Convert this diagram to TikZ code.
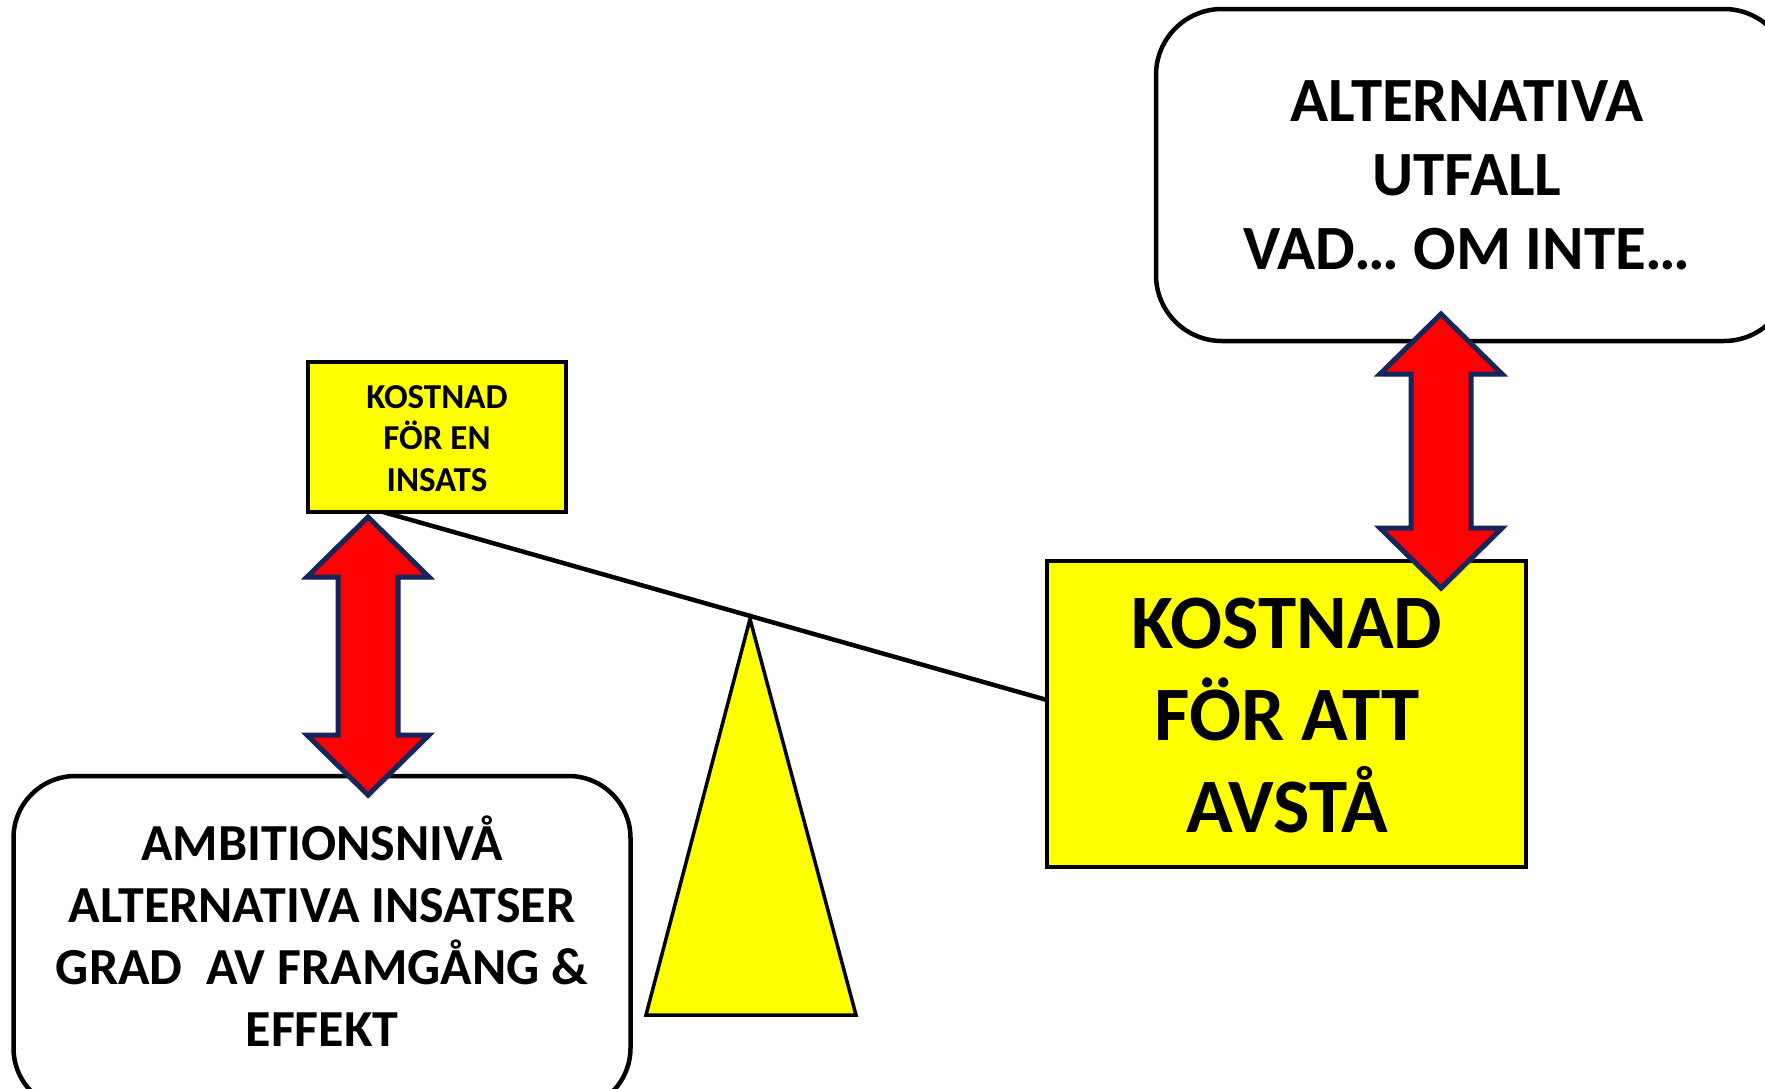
\documentclass[tikz,border=0pt]{standalone}
\usepackage{fontspec}
\setmainfont{Carlito}
\usetikzlibrary{shadows}
\definecolor{boxyellow}{RGB}{255,255,0}
\definecolor{arrred}{RGB}{255,0,0}
\definecolor{arrnavy}{RGB}{22,38,92}
\tikzset{
  roundbox/.style={draw=black, line width=4.5pt, fill=white, rounded corners=66pt, inner sep=0pt},
  yellowbox/.style={draw=black, line width=3.5pt, fill=boxyellow, inner sep=0pt},
  lbl/.style={align=center, inner sep=0pt, text=black},
  beam/.style={draw=black, line width=4.5pt},
  fulcrum/.style={draw=black, line width=3.5pt, fill=boxyellow, line join=miter},
  redarrow/.style={draw=arrnavy, line width=5pt, fill=arrred, line join=miter,
    drop shadow={shadow xshift=2pt, shadow yshift=-3pt, opacity=0.25}}
}
\newcommand\vdarrow[3]{%
  \path[redarrow] (#1,#2) -- ({#1+61},{#2+60}) -- ({#1+30},{#2+60}) -- ({#1+30},{#3-60})
    -- ({#1+61},{#3-60}) -- (#1,#3) -- ({#1-61},{#3-60}) -- ({#1-30},{#3-60})
    -- ({#1-30},{#2+60}) -- ({#1-61},{#2+60}) -- cycle;}
\begin{document}
\begin{tikzpicture}[x=1pt,y=-1pt]
\useasboundingbox (0,0) rectangle (1765,1088);
\clip (0,0) rectangle (1765,1088);
\fill[white] (0,0) rectangle (1765,1088);

% top right rounded box
\node[roundbox, minimum width=634pt, minimum height=332pt] (outcome) at (1473,175) {};
\node[lbl, font=\fontsize{63}{74}\selectfont\bfseries] (outcometxt) at (1467,175.5)
  {ALTERNATIVA\\UTFALL\\VAD… OM INTE…};

% bottom left rounded box
\node[roundbox, rounded corners=62pt, minimum width=617pt, minimum height=334pt] (ambition) at (322,943) {};
\node[lbl, font=\fontsize{52}{62}\selectfont\bfseries] (ambitiontxt) at (322,931)
  {AMBITIONSNIVÅ\\ALTERNATIVA INSATSER\\GRAD\ \ AV FRAMGÅNG \&\\EFFEKT};

% small yellow box
\node[yellowbox, minimum width=258pt, minimum height=150pt] (insats) at (437,437) {};
\node[lbl, font=\fontsize{35}{41.5}\selectfont\bfseries] (insatstxt) at (437,438.5)
  {KOSTNAD\\FÖR EN\\INSATS};

% big yellow box
\node[yellowbox, minimum width=479pt, minimum height=306pt] (avsta) at (1286.5,714) {};
\node[lbl, font=\fontsize{77}{92}\selectfont\bfseries] (avstatxt) at (1287,716)
  {KOSTNAD\\FÖR ATT\\AVSTÅ};

% beam
\coordinate (beamL) at (383,512);
\coordinate (beamR) at (1047,700);
\draw[beam] (beamL) -- (beamR);

% fulcrum triangle
\coordinate (apex) at (750,619);
\coordinate (baseL) at (646,1015);
\coordinate (baseR) at (856,1015);
\path[fulcrum] (apex) -- (baseR) -- (baseL) -- cycle;

% double arrows
\vdarrow{368}{517}{795}
\vdarrow{1441}{314}{588}
\end{tikzpicture}
\end{document}
